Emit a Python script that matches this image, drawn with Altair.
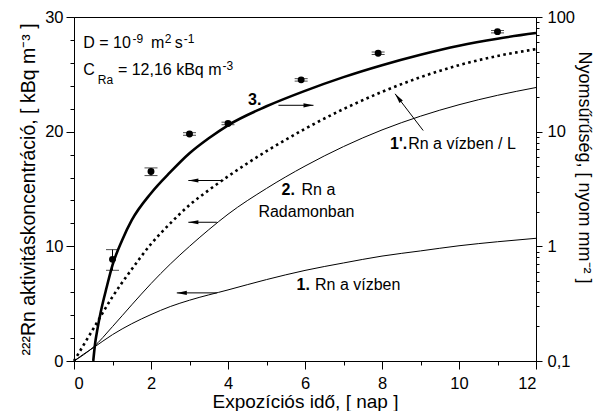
import altair as alt
import pandas as pd

# ---- data ----
# curve 1: "Rn a vízben" (left axis, kBq m-3)
c1_x = [0, 0.25, 0.5, 1, 1.5, 2, 2.5, 3, 4, 5, 6, 7, 8, 9, 10, 11, 12]
c1_y = [0, 0.6, 1.15, 2.3, 3.25, 4.05, 4.75, 5.3, 6.2, 7.1, 7.9, 8.55, 9.15, 9.6, 10.05, 10.4, 10.7]
# curve 2: "Rn a Radamonban" (left axis)
c2_x = [0, 0.25, 0.5, 1, 1.5, 2, 2.5, 3, 3.5, 4, 5, 6, 7, 8, 9, 10, 11, 12]
c2_y = [0, 0.55, 1.2, 3.0, 4.9, 6.75, 8.45, 10.0, 11.45, 12.8, 15.05, 17.0, 18.7, 20.15, 21.35, 22.35, 23.17, 23.85]
# curve 1': "Rn a vízben / L" (left axis, dotted)
c1p_x = [0, 0.25, 0.5, 1, 1.5, 2, 2.5, 3, 3.5, 4, 5, 6, 7, 8, 9, 10, 11, 12]
c1p_y = [0, 1.4, 2.8, 5.6, 8.0, 10.2, 12.0, 13.6, 14.9, 16.1, 18.3, 20.25, 21.97, 23.47, 24.75, 25.8, 26.6, 27.2]
# curve 3: track density (right log axis)
c3_x = [0.5, 0.55, 0.6, 0.7, 0.85, 1, 1.25, 1.5, 2, 2.5, 3, 3.5, 4, 5, 6, 7, 8, 9, 10, 11, 12]
c3_y = [0.1, 0.1436, 0.1824, 0.2725, 0.4416, 0.686, 1.132, 1.69, 2.906, 4.43, 6.48, 8.76, 11.37,
        16.64, 22.7, 29.9, 38.0, 46.9, 56.2, 64.7, 72.4]
# measured track densities (right log axis)
pt_x = [1, 2, 3, 4, 5.9, 7.9, 11]
pt_y = [0.77, 4.49, 9.55, 11.8, 28.3, 48.3, 74.5]
pt_lo = [0.618, 4.14, 9.3, 11.5, 27.6, 47.1, 72.7]
pt_hi = [0.936, 4.83, 9.8, 12.1, 29.0, 49.5, 76.3]

# arrows (tail -> tip), in x / left-axis units
ar_x1 = [3.71, 3.71, 3.88, 5.31, 9.07]
ar_y1 = [5.94, 12.1, 15.74, 22.3, 20.1]
ar_x2 = [2.67, 2.97, 2.97, 6.22, 8.34]
ar_y2 = [5.94, 12.1, 15.74, 22.3, 23.3]
ar_angle = [0, 0, 0, 180, 52.6]

# annotation texts
txt_normal = ["D = 10", "m", "s", "C", "= 12,16 kBq m", "Rn a", "Radamonban", "Rn a vízben", "Rn a vízben / L"]
txt_normal_x = [0.24, 2.0, 2.62, 0.24, 1.14, 5.91, 4.79, 6.26, 8.68]
txt_normal_y = [27.72, 27.72, 27.72, 25.37, 25.37, 14.87, 13.0, 6.6, 18.9]
txt_small = ["-9", "2", "-1", "Ra", "-3"]
txt_small_x = [1.52, 2.36, 2.85, 0.62, 3.86]
txt_small_y = [28.05, 28.05, 28.05, 24.5, 25.75]
txt_bold = ["3.", "2.", "1.", "1'."]
txt_bold_x = [4.52, 5.39, 5.78, 8.21]
txt_bold_y = [22.8, 14.87, 6.6, 18.9]

x_ticks = list(range(0, 13))
left_ticks = list(range(0, 31, 2))
right_ticks = [m * 10 ** e for e in (-1, 0, 1) for m in range(1, 10)] + [100]

FONT = "Liberation Sans"

# ---- tables ----
d1 = pd.DataFrame({"x": c1_x, "y": c1_y})
d2 = pd.DataFrame({"x": c2_x, "y": c2_y})
d1p = pd.DataFrame({"x": c1p_x, "y": c1p_y})
d3 = pd.DataFrame({"x": c3_x, "y": c3_y})
dp = pd.DataFrame({"x": pt_x, "y": pt_y, "lo": pt_lo, "hi": pt_hi})
da = pd.DataFrame({"x": ar_x1, "y": ar_y1, "x2": ar_x2, "y2": ar_y2, "angle": ar_angle})
dtn = pd.DataFrame({"x": txt_normal_x, "y": txt_normal_y, "t": txt_normal})
dts = pd.DataFrame({"x": txt_small_x, "y": txt_small_y, "t": txt_small})
dtb = pd.DataFrame({"x": txt_bold_x, "y": txt_bold_y, "t": txt_bold})

# ---- scales & axes ----
x_scale = alt.Scale(domain=[0, 12], nice=False, zero=False)
l_scale = alt.Scale(domain=[0, 30], nice=False, zero=False)
r_scale = alt.Scale(type="log", domain=[0.1, 100], nice=False)

common = dict(labelOverlap=False, grid=False, labelFontSize=16.5,
              labelFont=FONT, titleFont=FONT, titleFontWeight="normal",
              labelColor="black", titleColor="black", domainColor="black", tickColor="black")

x_axis = alt.Axis(
    title="Expozíciós idő, [ nap ]", orient="bottom", values=x_ticks,
    labelExpr="datum.value % 2 === 0 ? datum.label : ''",
    tickSize={"condition": {"test": "datum.value % 2 === 0", "value": 8}, "value": 4},
    labelPadding=6, titleFontSize=19, titleBaseline="alphabetic", titleY=46, **common,
)
l_axis = alt.Axis(
    title="²²²Rn aktivitáskoncentráció, [ kBq m⁻³ ]", orient="left", values=left_ticks,
    labelExpr="datum.value % 10 === 0 ? datum.label : ''",
    tickSize={"condition": {"test": "datum.value % 10 === 0", "value": 8}, "value": 4},
    labelPadding=3, titlePadding=6, titleFontSize=19.5, **common,
)
r_axis = alt.Axis(
    title="Nyomsűrűség, [ nyom  mm⁻² ]", orient="right", values=right_ticks,
    labelExpr="datum.value == 0.1 ? '0,1' : (indexof([1, 10, 100], datum.value) >= 0 ? format(datum.value, 'd') : '')",
    tickSize={"condition": {"test": "indexof([0.1, 1, 10, 100], datum.value) >= 0", "value": 6}, "value": 3},
    labelPadding=5, titlePadding=0, titleY=150, titleFontSize=18, **common,
)


def X(f="x"):
    return alt.X(f"{f}:Q", scale=x_scale, axis=x_axis)


def YL(f="y"):
    return alt.Y(f"{f}:Q", scale=l_scale, axis=l_axis)


def YR(f="y"):
    return alt.Y(f"{f}:Q", scale=r_scale, axis=r_axis)


# ---- left-axis layers ----
line1 = alt.Chart(d1).mark_line(color="black", strokeWidth=1, interpolate="monotone").encode(x=X(), y=YL())
line2 = alt.Chart(d2).mark_line(color="black", strokeWidth=1, interpolate="monotone").encode(x=X(), y=YL())
line1p = alt.Chart(d1p).mark_line(color="black", strokeWidth=2.6, strokeDash=[2.6, 3.4],
                                  interpolate="monotone").encode(x=X(), y=YL())
arrows = alt.Chart(da).mark_rule(color="black", strokeWidth=1).encode(
    x=X(), y=YL(), x2="x2:Q", y2="y2:Q")
heads = alt.Chart(da).mark_point(
    shape="M0,0 L2,-0.42 L2,0.42 Z", filled=True, size=100, color="black", opacity=1, strokeWidth=0
).encode(x=X("x2"), y=YL("y2"), angle=alt.Angle("angle:Q", scale=None))
t_norm = alt.Chart(dtn).mark_text(align="left", baseline="middle", font=FONT, fontSize=16,
                                  color="black").encode(x=X(), y=YL(), text="t:N")
t_small = alt.Chart(dts).mark_text(align="left", baseline="middle", font=FONT, fontSize=12,
                                   color="black").encode(x=X(), y=YL(), text="t:N")
t_bold = alt.Chart(dtb).mark_text(align="left", baseline="middle", font=FONT, fontSize=16,
                                  fontWeight="bold", color="black").encode(x=X(), y=YL(), text="t:N")

left = alt.layer(line1, line2, line1p, arrows, heads, t_norm, t_small, t_bold)

# ---- right-axis layers ----
line3 = alt.Chart(d3).mark_line(color="black", strokeWidth=2.6, interpolate="monotone").encode(x=X(), y=YR())
ebar = alt.Chart(dp).mark_rule(color="black", strokeWidth=1).encode(x=X(), y=YR("lo"), y2="hi:Q")
cap_lo = alt.Chart(dp).mark_tick(color="black", orient="horizontal", size=13, thickness=1).encode(x=X(), y=YR("lo"))
cap_hi = alt.Chart(dp).mark_tick(color="black", orient="horizontal", size=13, thickness=1).encode(x=X(), y=YR("hi"))
pts = alt.Chart(dp).mark_circle(color="black", size=48, opacity=1).encode(x=X(), y=YR())

right = alt.layer(line3, ebar, cap_lo, cap_hi, pts)

chart = (
    alt.layer(left, right)
    .resolve_scale(y="independent")
    .properties(width=462, height=344, background="white",
                autosize=alt.AutoSizeParams(type="none"),
                padding={"left": 66, "top": 9, "right": 58, "bottom": 50})
    .configure_view(stroke="black", strokeWidth=1)
    .configure_axis(labelFont=FONT, titleFont=FONT, labelColor="black", titleColor="black",
                    domainColor="black", tickColor="black", domainWidth=1, tickWidth=1,
                    titleFontWeight="normal")
)

chart.save("out.html", embed_options={"renderer": "svg", "actions": False})
